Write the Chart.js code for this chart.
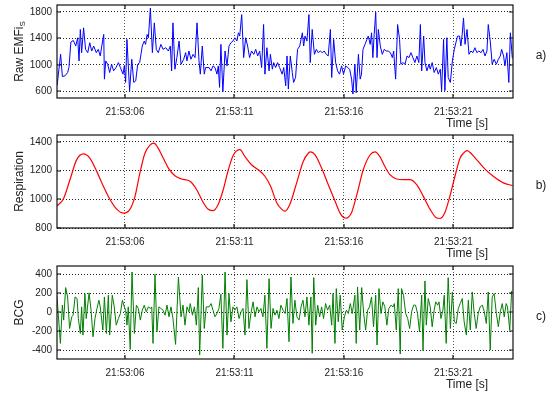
<!DOCTYPE html>
<html><head><meta charset="utf-8">
<script src="https://cdn.jsdelivr.net/npm/chart.js@4.4.0/dist/chart.umd.min.js"></script>
<style>
html,body{margin:0;padding:0;background:#fff;}
#wrap{position:relative;width:553px;height:394px;overflow:hidden;}
canvas{position:absolute;left:0;}
</style></head><body>
<div id="wrap">
<canvas id="ca" width="553" height="130" style="top:0px"></canvas>
<canvas id="cb" width="553" height="130" style="top:130px"></canvas>
<canvas id="cc" width="553" height="130" style="top:261px"></canvas>
</div>
<script>
// ---- time axis (seconds after 21:53:00) ----
const xTickSeconds = [6, 11, 16, 21];
const xTickLabels = ['21:53:06', '21:53:11', '21:53:16', '21:53:21'];
const xMinSec = 2.895, xMaxSec = 23.72;
const xAxisTitle = 'Time [s]';

// ---- a) Raw EMFi_S ----
const emfiTicks = [600, 1000, 1400, 1800];
const emfiTime = [2.90,3.06,3.14,3.26,3.38,3.44,3.53,3.64,3.75,3.84,3.90,3.96,4.02,4.11,4.20,4.30,4.39,4.48,4.57,4.69,4.78,4.87,4.94,5.03,5.06,5.12,5.21,5.30,5.39,5.48,5.59,5.70,5.79,5.91,5.97,6.03,6.09,6.21,6.31,6.40,6.49,6.58,6.67,6.79,6.88,6.94,7.01,7.07,7.16,7.25,7.34,7.43,7.52,7.64,7.74,7.86,7.98,8.07,8.13,8.19,8.28,8.37,8.47,8.56,8.68,8.77,8.83,8.92,9.01,9.11,9.20,9.29,9.38,9.44,9.53,9.62,9.68,
9.84,9.93,10.02,10.11,10.20,10.26,10.32,10.38,10.47,10.57,10.66,10.75,10.84,10.93,11.02,11.11,11.18,11.24,11.33,11.42,11.51,11.60,11.69,11.78,11.88,11.97,12.06,12.15,12.24,12.33,12.39,12.48,12.58,12.64,12.73,12.79,12.88,12.97,13.06,13.18,13.25,13.34,13.40,13.46,13.55,13.64,13.70,13.79,13.88,13.98,14.04,14.10,14.16,14.22,14.31,14.40,14.46,14.55,14.65,14.74,14.83,14.92,15.01,15.10,15.19,15.28,15.38,15.44,15.53,15.62,15.71,15.80,15.89,15.98,16.08,16.17,16.26,16.35,16.41,16.50,16.56,16.66,
16.74,16.80,16.87,16.96,17.05,17.11,17.20,17.26,17.32,17.38,17.45,17.51,17.57,17.66,17.75,17.84,17.93,18.02,18.12,18.21,18.27,18.36,18.45,18.54,18.60,18.69,18.79,18.88,18.97,19.06,19.15,19.24,19.33,19.42,19.49,19.55,19.64,19.70,19.79,19.88,19.94,20.03,20.12,20.22,20.31,20.40,20.46,20.55,20.61,20.70,20.76,20.86,20.95,21.04,21.13,21.19,21.28,21.34,21.40,21.46,21.53,21.62,21.71,21.80,21.89,21.98,22.07,22.16,22.26,22.35,22.44,22.53,22.59,22.68,22.77,22.86,22.96,23.05,23.14,23.20,23.29,23.35,23.44,23.53,23.60,23.69];
const emfiValues = [690,1160,825,835,885,960,1345,1370,1285,1410,1060,1535,1185,1560,1235,1185,1335,1210,1285,1185,1235,1135,1285,1460,785,1060,1010,885,1010,910,960,1035,960,860,985,735,1385,610,1085,735,760,1010,1035,1285,1360,1310,1460,1410,1860,1185,1635,1235,1185,1310,1235,1260,1210,1285,910,1635,935,1110,1360,1010,1085,1185,1060,1210,1085,1160,1110,1635,1060,860,1285,860,960,
960,910,985,960,860,985,660,1310,595,1210,985,1285,1335,1360,1410,1360,1485,1435,1760,1110,1410,1285,1110,1210,1160,1235,1135,1210,960,1610,860,1260,910,1160,935,1035,960,1035,960,860,960,685,1135,635,1135,885,735,810,1235,1285,1385,1485,1285,1435,1360,1760,1035,1535,1160,1235,1185,1210,1185,1210,1160,1135,1535,810,1385,1035,910,860,985,860,985,960,935,785,560,1010,580,1160,
785,860,1235,1310,1385,1435,1310,1485,1110,1460,1795,1110,1535,1285,1160,1235,1210,1210,1185,1110,1210,785,1610,1385,1010,1035,1010,1135,1110,1185,1110,1035,1135,1035,1610,910,1435,1035,910,1010,935,1035,885,960,860,935,610,1385,610,1410,810,735,1060,1235,1360,1435,1435,1285,1460,1710,1310,1535,1160,1210,1185,1260,1185,1210,1185,1235,1135,1210,1610,1360,1010,1085,1010,1085,1135,1235,1135,985,1185,735,1485,1100];

// ---- b) Respiration ----
const respTicks = [800, 1000, 1200, 1400];
const respTime = [2.90,3.18,3.49,3.79,4.10,4.40,4.71,5.01,5.31,5.62,5.95,6.23,6.46,6.68,6.91,7.14,7.32,7.52,7.75,7.98,8.28,8.59,8.97,9.27,9.58,9.80,10.03,10.26,10.49,10.72,10.95,11.25,11.48,11.78,12.09,12.39,12.65,12.93,13.15,13.31,13.53,13.84,14.14,14.37,14.48,14.68,14.98,15.28,15.59,15.85,16.09,16.35,16.61,16.88,17.19,17.42,17.64,17.87,18.10,18.41,18.71,19.01,19.32,19.62,19.93,20.20,20.38,20.61,20.84,21.07,21.30,21.53,21.63,21.83,22.13,22.44,22.82,23.28,23.70];
const respValues = [955,1000,1137,1274,1315,1285,1194,1091,1000,931,903,931,1022,1182,1320,1377,1390,1354,1285,1217,1164,1141,1125,1068,976,931,921,965,1068,1205,1308,1345,1297,1240,1205,1160,1090,976,931,917,965,1114,1263,1320,1329,1308,1217,1102,988,896,868,908,1045,1205,1308,1329,1297,1228,1171,1141,1137,1137,1102,1022,931,873,866,908,1022,1160,1285,1331,1338,1315,1263,1210,1160,1114,1096];

// ---- c) BCG ----
const bcgTicks = [-400, -200, 0, 200, 400];
const bcgTime = [2.89,3.05,3.14,3.20,3.29,3.38,3.47,3.57,3.63,3.72,3.81,3.87,3.96,4.02,4.08,4.17,4.23,4.36,4.45,4.54,4.63,4.72,4.81,4.87,4.99,5.06,5.15,5.24,5.30,5.42,5.51,5.60,5.70,5.79,5.88,5.97,6.03,6.09,6.15,6.24,6.32,6.43,6.52,6.61,6.70,6.79,6.88,6.97,7.07,7.16,7.22,7.28,7.37,7.46,7.55,7.64,7.74,7.83,7.92,8.01,8.10,8.19,8.31,8.44,8.56,8.65,8.74,8.83,8.92,8.98,9.08,9.17,9.26,9.35,9.41,9.53,9.62,9.71,
9.84,9.93,10.02,10.11,10.20,10.29,10.38,10.47,10.57,10.66,10.75,10.84,10.93,11.02,11.11,11.21,11.30,11.39,11.48,11.57,11.66,11.75,11.85,11.94,12.03,12.12,12.21,12.30,12.39,12.48,12.58,12.67,12.76,12.85,12.94,13.03,13.12,13.22,13.31,13.40,13.49,13.58,13.67,13.76,13.85,13.95,14.04,14.13,14.22,14.31,14.40,14.49,14.55,14.62,14.71,14.80,14.89,14.98,15.07,15.16,15.25,15.35,15.44,15.50,15.59,15.65,15.74,15.83,15.92,16.02,16.11,16.20,16.29,16.38,
16.50,16.56,16.62,16.72,16.81,16.90,16.99,17.08,17.17,17.26,17.35,17.45,17.51,17.60,17.69,17.78,17.87,17.96,18.05,18.15,18.24,18.30,18.39,18.48,18.57,18.63,18.72,18.82,18.91,19.00,19.09,19.18,19.27,19.36,19.45,19.55,19.61,19.70,19.76,19.85,19.94,20.03,20.12,20.19,20.28,20.34,20.43,20.52,20.58,20.67,20.76,20.86,20.95,21.04,21.13,21.22,21.31,21.40,21.49,21.59,21.68,21.77,21.86,21.95,22.04,22.13,22.22,22.32,22.41,22.50,22.59,22.68,22.77,22.86,22.96,23.05,23.14,23.23,23.32,23.41,23.47,23.57,23.66];
const bcgValues = [179,-330,74,-84,260,161,-172,-49,-32,161,144,-67,-225,56,-242,196,-67,204,21,-260,-67,39,126,56,-189,161,-225,179,-242,179,56,-137,-67,-14,126,56,21,-137,56,-393,425,-225,74,39,-84,21,74,4,56,39,56,-330,400,-207,56,39,21,-32,74,-49,56,-67,-340,370,-49,74,-137,56,4,91,-32,56,-137,260,-453,390,-172,56,
56,91,21,-49,-14,39,190,-382,425,-242,196,-102,56,21,56,-67,4,39,-242,344,-172,-14,109,-49,56,4,39,-49,179,-382,354,-172,39,-32,21,-67,74,21,-14,144,-312,372,-119,126,-49,-84,56,126,-49,161,-137,161,-435,365,-137,74,-49,56,-67,91,21,74,-137,196,-330,249,-102,179,-189,-49,21,-14,91,-14,
179,-330,267,-189,260,-14,-189,21,56,161,-154,179,-347,249,-14,109,56,-137,39,74,56,91,-189,249,-442,249,179,-14,-67,-172,4,74,74,-14,-207,179,-407,330,-137,144,56,-154,21,109,74,109,-67,21,179,-330,365,-172,214,-102,-119,39,91,144,-102,-242,126,-189,214,-14,-172,-14,56,74,4,-119,214,-400,161,196,-14,-154,4,91,-49,91,56,-189,225];

const FONT = '"Liberation Sans", Arial, Helvetica, sans-serif';
Chart.defaults.font.family = FONT;
Chart.defaults.font.size = 10;
Chart.defaults.color = '#222';

function toXY(t, v) { return t.map((tt, i) => ({ x: tt, y: v[i] })); }

function decorPlugin(title, sub, tag, yTicks) {
  return {
    id: 'decor',
    afterDraw(chart) {
      const { ctx, chartArea: a, scales } = chart;
      const xs = scales.x, ys = scales.y;
      ctx.save();
      ctx.strokeStyle = '#111';
      ctx.lineWidth = 1.2;
      ctx.strokeRect(a.left, a.top, a.right - a.left, a.bottom - a.top);
      ctx.beginPath();
      xTickSeconds.forEach(v => {
        const p = Math.round(xs.getPixelForValue(v));
        ctx.moveTo(p, a.bottom); ctx.lineTo(p, a.bottom - 4);
        ctx.moveTo(p, a.top); ctx.lineTo(p, a.top + 4);
      });
      yTicks.forEach(v => {
        const p = Math.round(ys.getPixelForValue(v));
        ctx.moveTo(a.left, p); ctx.lineTo(a.left + 4, p);
        ctx.moveTo(a.right, p); ctx.lineTo(a.right - 4, p);
      });
      ctx.stroke();
      ctx.fillStyle = '#222';
      const cy = (a.top + a.bottom) / 2;
      ctx.translate(20, cy);
      ctx.rotate(-Math.PI / 2);
      ctx.textBaseline = 'middle';
      ctx.font = '12px ' + FONT;
      const w1 = ctx.measureText(title).width;
      let w2 = 0;
      if (sub) { ctx.font = '8px ' + FONT; w2 = ctx.measureText(sub).width; }
      const start = -(w1 + w2) / 2;
      ctx.font = '12px ' + FONT;
      ctx.textAlign = 'left';
      ctx.fillText(title, start, 0);
      if (sub) { ctx.font = '8px ' + FONT; ctx.fillText(sub, start + w1, 3); }
      ctx.setTransform(1, 0, 0, 1, 0, 0);
      ctx.font = '12px ' + FONT;
      ctx.textAlign = 'center';
      ctx.textBaseline = 'middle';
      ctx.fillText(xAxisTitle, a.right - 46, a.bottom + 26);
      ctx.fillText(tag, 541, cy + 4);
      ctx.restore();
    }
  };
}

function makeChart(id, t, v, color, yMin, yMax, yTicks, title, sub, tag, smooth) {
  return new Chart(document.getElementById(id), {
    type: 'line',
    data: { datasets: [{
      data: toXY(t, v), borderColor: color, borderWidth: smooth ? 1.2 : 1, pointRadius: 0,
      cubicInterpolationMode: smooth ? 'monotone' : 'default', tension: 0, fill: false
    }] },
    options: {
      responsive: false, animation: false, events: [],
      layout: { padding: { left: 0, right: 40, top: 5, bottom: 0 } },
      plugins: { legend: { display: false }, tooltip: { enabled: false } },
      scales: {
        x: {
          type: 'linear', min: xMinSec, max: xMaxSec,
          afterBuildTicks: s => { s.ticks = xTickSeconds.map(x => ({ value: x })); },
          afterFit: s => { s.height = 32; s.paddingLeft = 0; s.paddingRight = 0; },
          ticks: { autoSkip: false, maxRotation: 0, padding: 8, color: '#222',
            callback: val => xTickLabels[xTickSeconds.indexOf(val)] },
          grid: { drawTicks: false, color: '#555', lineWidth: 1 },
          border: { display: false, dash: [1, 2] }
        },
        y: {
          min: yMin, max: yMax,
          afterBuildTicks: s => { s.ticks = yTicks.map(y => ({ value: y })); },
          afterFit: s => { s.width = 57; s.paddingTop = 0; s.paddingBottom = 0; },
          ticks: { autoSkip: false, padding: 5, color: '#222', callback: val => String(val) },
          grid: { drawTicks: false, color: '#222', lineWidth: 1 },
          border: { display: false, dash: [1, 2] }
        }
      }
    },
    plugins: [decorPlugin(title, sub, tag, yTicks)]
  });
}

makeChart('ca', emfiTime, emfiValues, '#0000ff', 500, 1905, emfiTicks, 'Raw EMFi', 'S', 'a)', false);
makeChart('cb', respTime, respValues, '#ff0000', 800, 1447, respTicks, 'Respiration', '', 'b)', true);
makeChart('cc', bcgTime, bcgValues, '#007f00', -495, 488, bcgTicks, 'BCG', '', 'c)', false);
</script>
</body></html>
